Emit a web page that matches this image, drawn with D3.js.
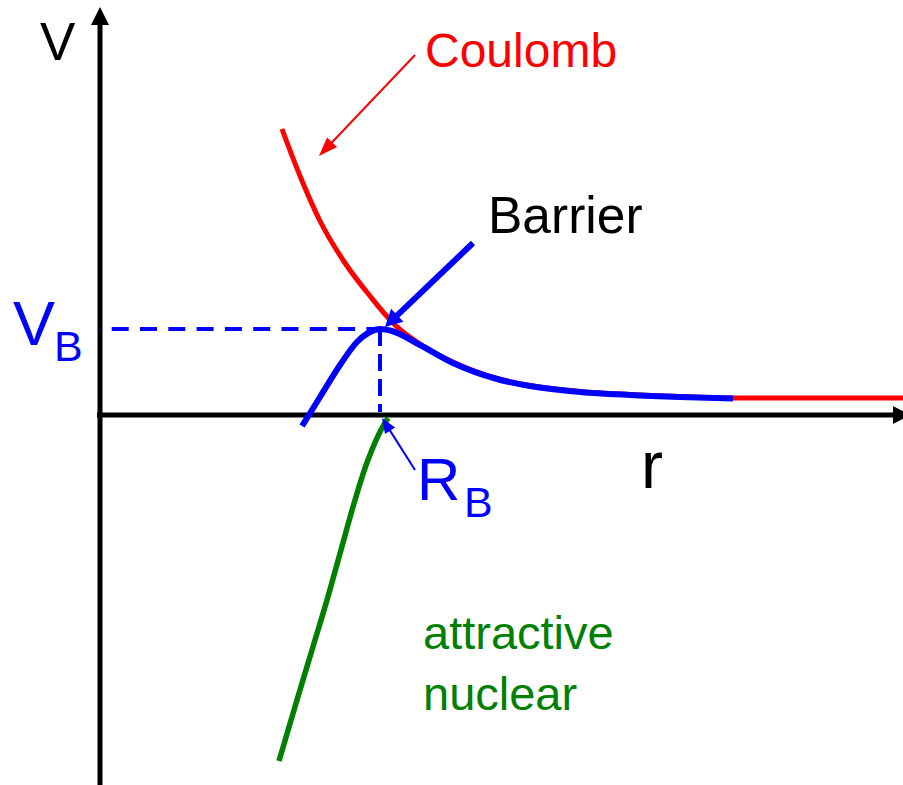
<!DOCTYPE html>
<html>
<head>
<meta charset="utf-8">
<script src="https://cdn.jsdelivr.net/npm/d3@7"></script>
<style>
  html, body { margin: 0; padding: 0; background: #fff; }
  svg { display: block; font-family: "Liberation Sans", Arial, sans-serif; }
</style>
</head>
<body>
<svg id="chart" width="903" height="785"></svg>
<script>
// ---- data (r, V in arbitrary units) ----
const coulombR = [2.266, 2.491, 2.740, 3.051, 3.362, 3.674, 3.985, 4.396, 4.944, 5.355, 5.978, 6.600, 7.223, 7.908, 10.0];
const coulombV = [7.15, 5.975, 4.85, 3.80, 2.975, 2.25, 1.775, 1.325, 0.9125, 0.7375, 0.5875, 0.5125, 0.4625, 0.425, 0.425];

const barrierR = [2.516, 2.740, 2.989, 3.200, 3.362, 3.487, 3.636, 3.985, 4.396, 4.944, 5.355, 5.978, 6.600, 7.223, 7.883];
const barrierV = [-0.275, 0.45, 1.25, 1.825, 2.075, 2.15, 2.10, 1.75, 1.30, 0.90, 0.725, 0.575, 0.50, 0.45, 0.4125];

const nuclearR = [3.587, 3.499, 3.337, 3.176, 3.001, 2.827, 2.640, 2.453, 2.229];
const nuclearV = [-0.075, -0.375, -1.125, -2.125, -3.375, -4.625, -5.875, -7.125, -8.65];

const barrierPeakR = 3.487;
const barrierPeakV = 2.15;

const labels = {
  yAxis: "V", xAxis: "r", coulomb: "Coulomb", barrier: "Barrier",
  vb: ["V", "B"], rb: ["R", "B"], nuclear: ["attractive", "nuclear"]
};

// ---- scales ----
const x = d3.scaleLinear().domain([0, 10]).range([100, 903]);
const y = d3.scaleLinear().domain([0, 10]).range([415, 15]);

const svg = d3.select("#chart");
const RED = "#ff0000", BLUE = "#0000ff", GREEN = "#008000";

function arrowHead(g, x1, y1, x2, y2, len, halfW, color) {
  const a = Math.atan2(y2 - y1, x2 - x1);
  const bx = x2 - len * Math.cos(a), by = y2 - len * Math.sin(a);
  const px = -Math.sin(a) * halfW, py = Math.cos(a) * halfW;
  g.append("path")
    .attr("d", `M${x2},${y2}L${bx + px},${by + py}L${bx - px},${by - py}Z`)
    .attr("fill", color);
}
function arrow(x1, y1, x2, y2, w, len, halfW, color) {
  const a = Math.atan2(y2 - y1, x2 - x1);
  svg.append("line")
    .attr("x1", x1).attr("y1", y1)
    .attr("x2", x2 - (len * 0.8) * Math.cos(a)).attr("y2", y2 - (len * 0.8) * Math.sin(a))
    .attr("stroke", color).attr("stroke-width", w);
  arrowHead(svg, x1, y1, x2, y2, len, halfW, color);
}

// ---- axes ----
arrow(x(0), 785, x(0), 7, 5, 18, 9, "#000");
arrow(x(0) - 3, y(0), 910, y(0), 5, 17, 9, "#000");

// ---- dashed guides ----
svg.append("line")
  .attr("x1", x(0)).attr("y1", y(barrierPeakV))
  .attr("x2", x(barrierPeakR)).attr("y2", y(barrierPeakV))
  .attr("stroke", BLUE).attr("stroke-width", 4)
  .attr("stroke-dasharray", "17,11.3").attr("stroke-dashoffset", 16.6);
svg.append("line")
  .attr("x1", x(barrierPeakR)).attr("y1", y(barrierPeakV))
  .attr("x2", x(barrierPeakR)).attr("y2", y(0) - 3)
  .attr("stroke", BLUE).attr("stroke-width", 4)
  .attr("stroke-dasharray", "17,8");

// ---- curves ----
const lineX = d3.line().x(d => x(d[0])).y(d => y(d[1])).curve(d3.curveMonotoneX);
const lineY = d3.line().x(d => x(d[0])).y(d => y(d[1])).curve(d3.curveMonotoneY);

svg.append("path")
  .attr("d", lineX(coulombR.map((r, i) => [r, coulombV[i]])))
  .attr("fill", "none").attr("stroke", RED).attr("stroke-width", 5);

svg.append("path")
  .attr("d", lineY(nuclearR.map((r, i) => [r, nuclearV[i]])))
  .attr("fill", "none").attr("stroke", GREEN).attr("stroke-width", 5.5);

svg.append("path")
  .attr("d", lineX(barrierR.map((r, i) => [r, barrierV[i]])))
  .attr("fill", "none").attr("stroke", BLUE).attr("stroke-width", 6);

// ---- annotation arrows ----
arrow(x(3.923), y(9.0), x(2.727), y(6.475), 2, 19, 7, RED);
arrow(x(4.645), y(4.3), x(3.549), y(2.2), 6, 17, 9, BLUE);
arrow(x(3.923), y(-1.375), x(3.512), y(-0.075), 2, 15, 6, BLUE);

// ---- text ----
svg.append("text").attr("x", 40).attr("y", 60).attr("font-size", 53).attr("fill", "#000").text(labels.yAxis);
svg.append("text").attr("x", 641).attr("y", 488).attr("font-size", 66).attr("fill", "#000").text(labels.xAxis);
svg.append("text").attr("x", 425).attr("y", 67).attr("font-size", 48).attr("fill", RED).text(labels.coulomb);
svg.append("text").attr("x", 488).attr("y", 233).attr("font-size", 51.5).attr("fill", "#000").text(labels.barrier);

const vb = svg.append("text").attr("fill", BLUE);
vb.append("tspan").attr("x", 13).attr("y", 345).attr("font-size", 63).text(labels.vb[0]);
vb.append("tspan").attr("x", 54).attr("y", 361).attr("font-size", 43).text(labels.vb[1]);

const rb = svg.append("text").attr("fill", BLUE);
rb.append("tspan").attr("x", 417).attr("y", 500).attr("font-size", 60).text(labels.rb[0]);
rb.append("tspan").attr("x", 464).attr("y", 517).attr("font-size", 43).text(labels.rb[1]);

const nt = svg.append("text").attr("fill", GREEN).attr("font-size", 47);
nt.append("tspan").attr("x", 423).attr("y", 649).text(labels.nuclear[0]);
nt.append("tspan").attr("x", 423).attr("y", 710).text(labels.nuclear[1]);
</script>
</body>
</html>
